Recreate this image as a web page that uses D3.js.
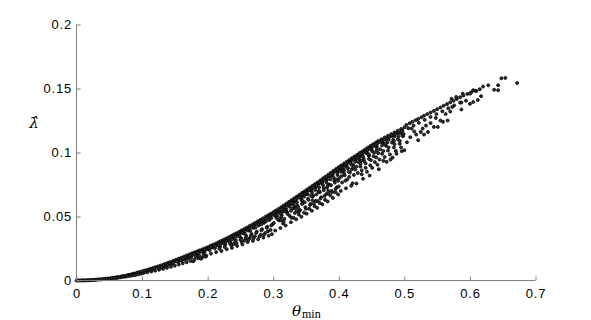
<!DOCTYPE html>
<html>
<head>
<meta charset="utf-8">
<script src="https://cdn.jsdelivr.net/npm/d3@7"></script>
<style>
  html, body { margin: 0; padding: 0; background: #fff; }
  svg { display: block; }
</style>
</head>
<body>
<svg id="chart" width="591" height="320"></svg>
<script>
// ---- data: [theta_min, lambda_hat] ----
const xTicks = [0, 0.1, 0.2, 0.3, 0.4, 0.5, 0.6, 0.7];
const yTicks = [0, 0.05, 0.1, 0.15, 0.2];
const xTickLabels = ["0", "0.1", "0.2", "0.3", "0.4", "0.5", "0.6", "0.7"];
const yTickLabels = ["0", "0.05", "0.1", "0.15", "0.2"];

const pointsA = [
  [0.000,0.0000],[0.004,0.0000],[0.008,0.0001],[0.012,0.0001],[0.016,0.0002],[0.020,0.0003],
  [0.024,0.0004],[0.028,0.0005],[0.032,0.0007],[0.036,0.0009],[0.040,0.0010],[0.044,0.0013],
  [0.048,0.0015],[0.052,0.0018],[0.056,0.0021],[0.060,0.0024],[0.064,0.0027],[0.068,0.0031],
  [0.072,0.0035],[0.076,0.0039],[0.080,0.0044],[0.084,0.0049],[0.088,0.0054],[0.092,0.0060],
  [0.096,0.0066],[0.100,0.0072],
  [0.050,0.0013],[0.058,0.0018],[0.066,0.0023],[0.074,0.0029],[0.082,0.0036],[0.090,0.0043],[0.098,0.0052],
  [0.002,0.0000],[0.006,0.0000],[0.010,0.0001],[0.014,0.0001],[0.018,0.0002],[0.022,0.0003],
  [0.026,0.0004],[0.030,0.0006],[0.034,0.0008],[0.038,0.0009],[0.042,0.0011],[0.046,0.0014],
  [0.054,0.0019],[0.062,0.0025],[0.070,0.0033],[0.078,0.0041],[0.086,0.0051],[0.094,0.0063],
  [0.070,0.0027],[0.078,0.0033],[0.086,0.0040],[0.094,0.0048],[0.062,0.0020]
];
const pointsB = [
  [0.104,0.0078],[0.108,0.0084],[0.112,0.0090],[0.116,0.0097],[0.120,0.0104],[0.124,0.0110],
  [0.128,0.0117],[0.132,0.0124],[0.136,0.0132],[0.140,0.0139],[0.144,0.0147],[0.148,0.0155],
  [0.152,0.0163],[0.156,0.0171],[0.160,0.0179],[0.164,0.0187],[0.168,0.0196],[0.172,0.0204],
  [0.176,0.0212],[0.180,0.0220],[0.184,0.0228],[0.188,0.0236],[0.192,0.0244],[0.196,0.0252],[0.200,0.0260],
  [0.102,0.0058],[0.108,0.0064],[0.114,0.0070],[0.120,0.0077],[0.126,0.0084],[0.132,0.0091],
  [0.138,0.0099],[0.144,0.0107],[0.150,0.0116],[0.156,0.0125],[0.162,0.0134],[0.168,0.0143],
  [0.174,0.0153],[0.180,0.0163],[0.186,0.0173],[0.192,0.0183],[0.198,0.0194],
  [0.105,0.0068],[0.115,0.0082],[0.125,0.0096],[0.135,0.0112],[0.145,0.0127],[0.155,0.0144],
  [0.165,0.0162],[0.175,0.0180],[0.185,0.0199],[0.195,0.0220],
  [0.178,0.0150],[0.190,0.0170],[0.197,0.0185],
  [0.103,0.0070],[0.111,0.0082],[0.119,0.0094],[0.127,0.0107],[0.133,0.0118],[0.141,0.0132],
  [0.149,0.0146],[0.157,0.0160],[0.163,0.0172],[0.171,0.0188],[0.177,0.0200],[0.183,0.0212],
  [0.189,0.0224],[0.193,0.0232],[0.199,0.0244],[0.170,0.0170],[0.182,0.0185],[0.194,0.0205],
  [0.160,0.0155],[0.187,0.0195],
  [0.130,0.0105],[0.139,0.0120],[0.147,0.0135],[0.153,0.0150],[0.159,0.0165],[0.167,0.0180],
  [0.173,0.0192],[0.179,0.0208],[0.185,0.0218],[0.191,0.0228],[0.196,0.0238]
];
const pointsC = [
  [0.204,0.0270],[0.208,0.0279],[0.212,0.0288],[0.216,0.0298],[0.220,0.0308],[0.224,0.0318],
  [0.228,0.0328],[0.232,0.0338],[0.236,0.0349],[0.240,0.0360],[0.244,0.0370],[0.248,0.0381],
  [0.252,0.0392],[0.256,0.0403],[0.260,0.0414],[0.264,0.0426],[0.268,0.0437],[0.272,0.0449],
  [0.276,0.0461],[0.280,0.0473],[0.284,0.0485],[0.288,0.0497],[0.292,0.0509],[0.296,0.0521],[0.300,0.0533],
  [0.206,0.0262],[0.214,0.0279],[0.222,0.0296],[0.230,0.0314],[0.238,0.0332],[0.246,0.0351],
  [0.254,0.0370],[0.262,0.0390],[0.270,0.0410],[0.278,0.0430],[0.286,0.0451],[0.294,0.0472],
  [0.203,0.0238],[0.211,0.0252],[0.219,0.0266],[0.227,0.0281],[0.235,0.0297],[0.243,0.0313],
  [0.251,0.0330],[0.259,0.0347],[0.267,0.0364],[0.275,0.0382],[0.283,0.0401],[0.291,0.0420],[0.299,0.0440],
  [0.205,0.0210],[0.213,0.0222],[0.221,0.0230],[0.229,0.0245],[0.237,0.0255],[0.245,0.0270],
  [0.253,0.0282],[0.261,0.0300],[0.269,0.0310],[0.277,0.0322],[0.285,0.0335],[0.293,0.0350],
  [0.298,0.0362],[0.240,0.0285],[0.256,0.0312],[0.272,0.0345],[0.288,0.0372],[0.264,0.0330],
  [0.281,0.0358],[0.296,0.0395]
];
const pointsC2 = [
  [0.201,0.0250],[0.207,0.0258],[0.209,0.0270],[0.215,0.0283],[0.217,0.0272],[0.223,0.0300],
  [0.225,0.0288],[0.231,0.0322],[0.233,0.0310],[0.234,0.0290],[0.239,0.0340],[0.241,0.0325],
  [0.242,0.0300],[0.247,0.0362],[0.249,0.0346],[0.250,0.0318],[0.255,0.0385],[0.257,0.0366],
  [0.258,0.0330],[0.263,0.0408],[0.265,0.0388],[0.266,0.0350],[0.271,0.0430],[0.273,0.0415],
  [0.274,0.0372],[0.279,0.0456],[0.282,0.0440],[0.282,0.0392],[0.287,0.0480],[0.289,0.0462],
  [0.290,0.0412],[0.295,0.0505],[0.297,0.0488],[0.297,0.0430],[0.226,0.0262],[0.244,0.0292],
  [0.262,0.0318],[0.279,0.0345],[0.292,0.0385],[0.218,0.0248],[0.236,0.0275],[0.252,0.0300],
  [0.270,0.0330],[0.286,0.0360]
];
const pointsC3 = [
  [0.202,0.0255],[0.205,0.0262],[0.210,0.0275],[0.212,0.0268],[0.218,0.0292],[0.220,0.0286],
  [0.226,0.0312],[0.228,0.0305],[0.232,0.0325],[0.235,0.0335],[0.237,0.0322],[0.243,0.0355],
  [0.245,0.0345],[0.248,0.0368],[0.251,0.0378],[0.253,0.0372],[0.259,0.0400],[0.261,0.0395],
  [0.264,0.0412],[0.267,0.0420],[0.269,0.0422],[0.275,0.0445],[0.277,0.0440],[0.280,0.0460],
  [0.283,0.0465],[0.285,0.0470],[0.291,0.0492],[0.293,0.0490],[0.296,0.0505],[0.299,0.0515]
];
const pointsD = [
  [0.304,0.0546],[0.308,0.0559],[0.312,0.0572],[0.316,0.0586],[0.320,0.0600],[0.324,0.0614],
  [0.328,0.0628],[0.332,0.0642],[0.336,0.0656],[0.340,0.0670],[0.344,0.0684],[0.348,0.0698],
  [0.352,0.0712],[0.356,0.0726],[0.360,0.0740],[0.364,0.0754],[0.368,0.0768],[0.372,0.0783],
  [0.376,0.0798],[0.380,0.0812],[0.384,0.0827],[0.388,0.0842],[0.392,0.0857],[0.396,0.0872],[0.400,0.0886],
  [0.302,0.0515],[0.310,0.0540],[0.318,0.0566],[0.326,0.0593],[0.334,0.0620],[0.342,0.0647],
  [0.350,0.0675],[0.358,0.0703],[0.366,0.0731],[0.374,0.0760],[0.382,0.0789],[0.390,0.0818],[0.398,0.0846],
  [0.305,0.0490],[0.313,0.0512],[0.321,0.0535],[0.329,0.0560],[0.337,0.0585],[0.345,0.0611],
  [0.353,0.0638],[0.361,0.0665],[0.369,0.0693],[0.377,0.0722],[0.385,0.0751],[0.393,0.0780],
  [0.301,0.0450],[0.309,0.0470],[0.317,0.0482],[0.325,0.0505],[0.333,0.0528],[0.341,0.0550],
  [0.349,0.0573],[0.357,0.0598],[0.365,0.0622],[0.373,0.0650],[0.381,0.0675],[0.389,0.0700],[0.397,0.0728],
  [0.303,0.0390],[0.311,0.0410],[0.319,0.0430],[0.327,0.0455],[0.335,0.0478],[0.343,0.0498],
  [0.351,0.0522],[0.359,0.0545],[0.367,0.0568],[0.375,0.0595],[0.383,0.0618],[0.391,0.0645],
  [0.399,0.0672],[0.315,0.0445],[0.331,0.0490],[0.347,0.0530],[0.363,0.0580],[0.379,0.0630],
  [0.395,0.0690],[0.339,0.0515],[0.371,0.0605],[0.355,0.0560],[0.387,0.0665]
];
const pointsD2 = [
  [0.301,0.0525],[0.303,0.0505],[0.306,0.0530],[0.307,0.0478],[0.309,0.0548],[0.311,0.0522],
  [0.312,0.0495],[0.314,0.0568],[0.315,0.0540],[0.316,0.0460],[0.319,0.0582],[0.320,0.0555],
  [0.322,0.0520],[0.323,0.0600],[0.325,0.0576],[0.327,0.0545],[0.328,0.0490],[0.330,0.0622],
  [0.331,0.0598],[0.333,0.0565],[0.335,0.0640],[0.336,0.0612],[0.338,0.0572],[0.339,0.0535],
  [0.341,0.0662],[0.343,0.0630],[0.344,0.0598],[0.346,0.0683],[0.347,0.0655],[0.348,0.0612],
  [0.350,0.0560],[0.352,0.0700],[0.353,0.0672],[0.354,0.0630],[0.356,0.0590],[0.357,0.0715],
  [0.359,0.0688],[0.360,0.0655],[0.362,0.0600],[0.363,0.0735],[0.364,0.0708],[0.366,0.0672],
  [0.368,0.0620],[0.369,0.0755],[0.370,0.0728],[0.371,0.0690],[0.372,0.0640],[0.375,0.0775],
  [0.376,0.0745],[0.377,0.0705],[0.378,0.0660],[0.380,0.0795],[0.381,0.0768],[0.382,0.0725],
  [0.384,0.0680],[0.386,0.0815],[0.387,0.0790],[0.388,0.0745],[0.390,0.0690],[0.391,0.0835],
  [0.392,0.0805],[0.394,0.0765],[0.395,0.0715],[0.397,0.0855],[0.398,0.0825],[0.399,0.0780],
  [0.400,0.0735]
];
const pointsD3 = [
  [0.302,0.0532],[0.305,0.0535],[0.308,0.0546],[0.310,0.0552],[0.313,0.0555],[0.317,0.0575],
  [0.319,0.0570],[0.321,0.0590],[0.324,0.0596],[0.326,0.0608],[0.329,0.0610],[0.332,0.0628],
  [0.334,0.0632],[0.337,0.0645],[0.340,0.0652],[0.342,0.0665],[0.345,0.0670],[0.348,0.0682],
  [0.350,0.0690],[0.353,0.0702],[0.355,0.0708],[0.358,0.0720],[0.361,0.0728],[0.363,0.0742],
  [0.366,0.0748],[0.369,0.0760],[0.371,0.0768],[0.374,0.0780],[0.377,0.0788],[0.379,0.0800],
  [0.382,0.0808],[0.385,0.0820],[0.387,0.0828],[0.390,0.0838],[0.393,0.0848],[0.395,0.0858],
  [0.398,0.0868],
  [0.306,0.0505],[0.318,0.0540],[0.332,0.0582],[0.344,0.0625],[0.358,0.0660],[0.370,0.0700],
  [0.383,0.0740],[0.396,0.0790],[0.312,0.0470],[0.336,0.0545],[0.360,0.0625],[0.384,0.0700]
];
const pointsE = [
  [0.404,0.0900],[0.408,0.0914],[0.412,0.0928],[0.416,0.0942],[0.420,0.0956],[0.424,0.0969],
  [0.428,0.0983],[0.432,0.0997],[0.436,0.1010],[0.440,0.1024],[0.444,0.1037],[0.448,0.1050],
  [0.452,0.1063],[0.456,0.1076],[0.460,0.1089],[0.465,0.1104],[0.470,0.1118],[0.475,0.1131],
  [0.480,0.1144],[0.485,0.1157],[0.490,0.1170],[0.495,0.1183],[0.500,0.1196],
  [0.402,0.0870],[0.410,0.0895],[0.418,0.0921],[0.426,0.0946],[0.434,0.0972],[0.442,0.0997],
  [0.450,0.1022],[0.458,0.1047],[0.467,0.1074],[0.476,0.1100],[0.485,0.1127],[0.494,0.1152],
  [0.406,0.0855],[0.414,0.0878],[0.422,0.0902],[0.430,0.0925],[0.438,0.0950],[0.446,0.0974],
  [0.454,0.0998],[0.463,0.1025],[0.472,0.1052],[0.481,0.1078],[0.490,0.1105],[0.498,0.1128],
  [0.401,0.0800],[0.409,0.0822],[0.417,0.0845],[0.425,0.0867],[0.433,0.0890],[0.441,0.0915],
  [0.449,0.0940],[0.457,0.0962],[0.466,0.0990],[0.475,0.1015],[0.484,0.1040],[0.493,0.1068],
  [0.405,0.0765],[0.413,0.0790],[0.421,0.0760],[0.427,0.0758],[0.435,0.0830],[0.443,0.0850],
  [0.451,0.0880],[0.459,0.0905],[0.468,0.0935],[0.473,0.0927],[0.482,0.0960],[0.488,0.0990],
  [0.496,0.1010],[0.411,0.0720],[0.419,0.0740],[0.403,0.0700],[0.437,0.0795],[0.447,0.0820],
  [0.461,0.0870],[0.479,0.0945]
];
const pointsE2 = [
  [0.401,0.0880],[0.403,0.0850],[0.404,0.0815],[0.406,0.0890],[0.407,0.0868],[0.408,0.0835],
  [0.410,0.0780],[0.412,0.0905],[0.413,0.0880],[0.415,0.0850],[0.416,0.0810],[0.418,0.0930],
  [0.419,0.0905],[0.420,0.0870],[0.423,0.0825],[0.424,0.0955],[0.425,0.0928],[0.427,0.0890],
  [0.429,0.0840],[0.430,0.0975],[0.431,0.0950],[0.433,0.0912],[0.435,0.0860],[0.436,0.0995],
  [0.437,0.0968],[0.439,0.0930],[0.441,0.0880],[0.443,0.1015],[0.444,0.0990],[0.446,0.0950],
  [0.448,0.0900],[0.450,0.1040],[0.451,0.1010],[0.453,0.0970],[0.455,0.0925],[0.457,0.1060],
  [0.458,0.1032],[0.460,0.0995],[0.462,0.0945],[0.464,0.1085],[0.466,0.1055],[0.468,0.1012],
  [0.470,0.0965],[0.472,0.1105],[0.474,0.1078],[0.476,0.1040],[0.478,0.0985],[0.481,0.1130],
  [0.483,0.1100],[0.485,0.1065],[0.487,0.1012],[0.489,0.1150],[0.491,0.1125],[0.493,0.1090],
  [0.495,0.1040],[0.497,0.1170],[0.499,0.1145]
];
const pointsE3 = [
  [0.402,0.0890],[0.405,0.0880],[0.409,0.0905],[0.411,0.0912],[0.414,0.0925],[0.417,0.0920],
  [0.421,0.0945],[0.423,0.0950],[0.426,0.0965],[0.429,0.0962],[0.432,0.0985],[0.435,0.0990],
  [0.438,0.1000],[0.441,0.1005],[0.444,0.1022],[0.447,0.1030],[0.450,0.1048],[0.453,0.1050],
  [0.456,0.1062],[0.459,0.1070],[0.462,0.1082],[0.466,0.1090],[0.469,0.1100],[0.473,0.1112],
  [0.477,0.1120],[0.481,0.1135],[0.486,0.1145],[0.491,0.1155],[0.496,0.1165],
  [0.408,0.0860],[0.422,0.0880],[0.434,0.0935],[0.446,0.0985],[0.458,0.1015],[0.471,0.1070],
  [0.484,0.1090],[0.497,0.1130]
];
const pointsF = [
  [0.503,0.1215],[0.508,0.1228],[0.512,0.1240],[0.517,0.1252],[0.521,0.1262],[0.526,0.1275],
  [0.530,0.1288],[0.535,0.1300],[0.540,0.1312],[0.545,0.1325],[0.550,0.1338],[0.555,0.1352],
  [0.560,0.1366],[0.565,0.1378],[0.570,0.1392],[0.575,0.1405],[0.580,0.1418],[0.585,0.1432],
  [0.590,0.1445],[0.596,0.1458],[0.602,0.1470],[0.608,0.1482],[0.615,0.1495],[0.620,0.1515],
  [0.628,0.1525],[0.637,0.1490],[0.643,0.1526],[0.643,0.1487],[0.648,0.1580],[0.654,0.1583],[0.672,0.1543],
  [0.506,0.1190],[0.514,0.1210],[0.522,0.1232],[0.531,0.1255],[0.540,0.1278],[0.549,0.1300],
  [0.558,0.1322],[0.567,0.1345],[0.576,0.1368],[0.585,0.1390],
  [0.500,0.1018],[0.504,0.1080],[0.509,0.1120],[0.511,0.1187],[0.518,0.1140],[0.521,0.1096],
  [0.525,0.1160],[0.528,0.1187],[0.533,0.1210],[0.536,0.1160],[0.540,0.1230],[0.545,0.1200],
  [0.551,0.1200],[0.555,0.1250],[0.559,0.1240],[0.566,0.1250],[0.563,0.1300],[0.572,0.1420],
  [0.573,0.1356],[0.579,0.1434],[0.587,0.1336],[0.587,0.1390],[0.589,0.1460],[0.600,0.1380],
  [0.600,0.1460],[0.605,0.1395],[0.605,0.1487],[0.610,0.1480],[0.612,0.1410],[0.617,0.1440],
  [0.594,0.1405],[0.530,0.1140],[0.515,0.1165],[0.548,0.1270],[0.570,0.1320]
];

const allPoints = [].concat(pointsA, pointsB, pointsC, pointsC2, pointsC3,
  pointsD, pointsD2, pointsD3, pointsE, pointsE2, pointsE3, pointsF);

// ---- layout ----
const svg = d3.select("#chart");
svg.append("rect").attr("width", 591).attr("height", 320).attr("fill", "#fff");

const x = d3.scaleLinear().domain([0, 0.7]).range([76.5, 535.5]);
const y = d3.scaleLinear().domain([0, 0.2]).range([280.5, 24.5]);

const axisColor = "#808080";
const tickFont = "Liberation Sans, Arial, Helvetica, sans-serif";

// points
svg.append("g")
  .selectAll("circle")
  .data(allPoints)
  .join("circle")
  .attr("cx", d => x(d[0]))
  .attr("cy", d => y(d[1]))
  .attr("r", 1.5)
  .attr("fill", "#333")
  .attr("stroke", "#000")
  .attr("stroke-width", 0.8);

// x axis
const gx = svg.append("g")
  .attr("transform", "translate(0,280.5)")
  .call(d3.axisBottom(x).tickValues(xTicks)
    .tickFormat((d, i) => xTickLabels[i])
    .tickSizeInner(-4).tickSizeOuter(0).tickPadding(8.6));
gx.select(".domain").attr("stroke", axisColor).attr("d", `M${x(0)},0H${x(0.7)}`);
gx.selectAll(".tick line").attr("stroke", axisColor);
gx.selectAll(".tick text").attr("fill", "#000").style("font-family", tickFont)
  .style("font-size", "13px").style("letter-spacing", "0.8px");

// y axis
const gy = svg.append("g")
  .attr("transform", "translate(76.5,0)")
  .call(d3.axisLeft(y).tickValues(yTicks)
    .tickFormat((d, i) => yTickLabels[i])
    .tickSizeInner(-4).tickSizeOuter(0).tickPadding(4.5));
gy.select(".domain").attr("stroke", axisColor).attr("d", `M0,${y(0)}V${y(0.2)}`);
gy.selectAll(".tick line").attr("stroke", axisColor);
gy.selectAll(".tick text").attr("fill", "#000").style("font-family", tickFont)
  .style("font-size", "13px").style("letter-spacing", "0.8px");

// axis labels
const xl = svg.append("text")
  .attr("x", 292).attr("y", 316)
  .style("font-family", "DejaVu Serif, Liberation Serif, serif")
  .attr("fill", "#000");
xl.append("tspan").text("θ").style("font-style", "italic").style("font-size", "15px");
xl.append("tspan").text("min").attr("dy", 2).attr("dx", 1)
  .style("font-family", "Liberation Serif, DejaVu Serif, serif").style("font-size", "12px");

svg.append("text")
  .attr("x", 34).attr("y", 128)
  .attr("text-anchor", "middle")
  .style("font-family", "DejaVu Serif, Liberation Serif, serif")
  .style("font-style", "italic")
  .style("font-size", "15px")
  .attr("fill", "#000")
  .text("λ̂");
</script>
</body>
</html>
